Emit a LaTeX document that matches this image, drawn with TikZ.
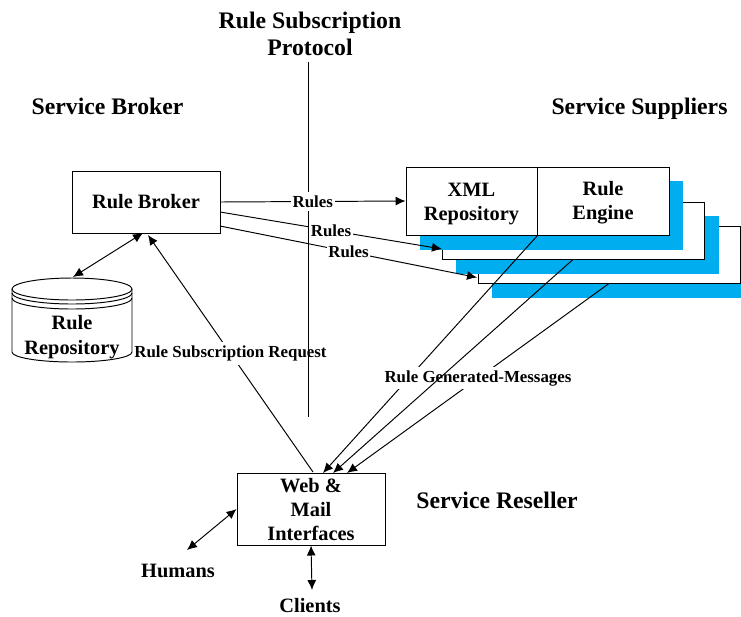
\documentclass[tikz,border=0pt]{standalone}
\usepackage{fontspec}
\setmainfont{Liberation Serif}
\usetikzlibrary{arrows.meta}
\definecolor{stackblue}{RGB}{0,173,239}
\begin{document}
\begin{tikzpicture}[>={Latex[length=2mm,width=1.8mm]},line width=0.55pt,
    box/.style={draw,fill=white,inner sep=0pt},
    txt/.style={font=\fontsize{11.6}{13.8}\selectfont\bfseries,align=center,inner sep=0pt},
    blue/.style={fill=stackblue,inner sep=0pt},
    head/.style={font=\fontsize{13.5}{15.4}\selectfont\bfseries,align=center,inner sep=0pt},
    tag/.style={fill=white,font=\fontsize{9.6}{10}\selectfont\bfseries,inner xsep=1pt,inner ysep=2pt}]

    \useasboundingbox (0,0) rectangle (14.82,-12.32);

    % stacked suppliers, back to front
    \node[blue,minimum width=4.98cm,minimum height=1.36cm] (blue3) at (12.33,-5.28) {};
    \node[box,minimum width=5.24cm,minimum height=1.14cm] (white3) at (12.18,-5.09) {};
    \node[blue,minimum width=5.26cm,minimum height=1.16cm] (blue2) at (11.75,-4.90) {};
    \node[box,minimum width=5.24cm,minimum height=1.14cm] (white2) at (11.46,-4.61) {};
    \node[blue,minimum width=5.26cm,minimum height=1.38cm] (blue1) at (11.03,-4.31) {};
    \node[box,minimum width=2.62cm,minimum height=1.36cm] (xml) at (9.43,-4.02) {};
    \node[box,minimum width=2.64cm,minimum height=1.36cm] (engine) at (12.06,-4.02) {};
    \node[txt] (xmltext) at (9.43,-4.08) {XML\\Repository};
    \node[txt] (enginetext) at (12.06,-4.06) {Rule\\Engine};

    \node[box,txt,minimum width=2.96cm,minimum height=1.24cm] (broker) at (2.92,-4.04) {Rule Broker};
    \node[box,minimum width=2.96cm,minimum height=1.44cm] (web) at (6.22,-10.18) {};
    \node[txt] (webtext) at (6.22,-10.19) {Web \&\\Mail\\Interfaces};

    % repository, drawn by hand
    \draw[fill=white] (0.24,-5.78) arc (180:0:1.2 and 0.22) -- (2.64,-7.04)
        arc (360:180:1.2 and 0.2) -- cycle;
    \draw (0.24,-5.78) arc (180:360:1.2 and 0.22);
    \draw (0.24,-5.86) arc (180:360:1.2 and 0.22);
    \draw (0.24,-5.96) arc (180:360:1.2 and 0.22);
    \coordinate (repotop) at (1.46,-5.54);
    \node[txt,font=\fontsize{11.6}{14.6}\selectfont\bfseries] (repotext) at (1.44,-6.74) {Rule\\Repository};

    % titles
    \node[head] (protocol) at (6.20,-0.67) {Rule Subscription\\Protocol};
    \node[head] (brokertitle) at (2.15,-2.12) {Service Broker};
    \node[head] (suppliers) at (12.79,-2.17) {Service Suppliers};
    \node[head] (reseller) at (9.94,-10.00) {Service Reseller};
    \node[txt] (humans) at (3.56,-11.42) {Humans};
    \node[txt] (clients) at (6.20,-12.12) {Clients};

    \coordinate (ba) at (2.86,-4.66);
    \coordinate (bb) at (2.96,-4.70);
    \coordinate (wt) at (6.26,-9.44);
    \draw[<->] (repotop) -- (ba);
    \draw[->] (wt) -- node [tag] {Rule Subscription Request} (bb);

    \coordinate (protobottom) at (6.16,-8.34);
    \coordinate (prototop) at (6.16,-1.24);
    \draw (prototop) -- (protobottom);

    \coordinate (b1) at (4.40,-4.04);
    \coordinate (b2) at (4.40,-4.24);
    \coordinate (b3) at (4.40,-4.52);
    \coordinate (s2) at (8.84,-4.98);
    \coordinate (s3) at (9.54,-5.55);
    \draw[->] (b1) -- node [tag] {Rules} (xml.west);
    \draw[->] (b2) -- node [tag] {Rules} (s2);
    \draw[->] (b3) -- node [tag] {Rules} (s3);

    \coordinate (w1) at (6.46,-9.46);
    \coordinate (w2) at (6.66,-9.46);
    \coordinate (w3) at (6.94,-9.46);
    \draw[->] (xml.south east) -- (w1);
    \draw[->] (white3.south) -- (w3);
    \node[tag] (generated) at (9.56,-7.56) {Rule Generated-Messages};
    \draw[->] (white2.south) -- (w2);

    \coordinate (hum) at (3.74,-11.00);
    \coordinate (cli) at (6.24,-11.80);
    \draw[<->] (web.west) -- (hum);
    \draw[<->] (web.south) -- (cli);

\end{tikzpicture}
\end{document}
